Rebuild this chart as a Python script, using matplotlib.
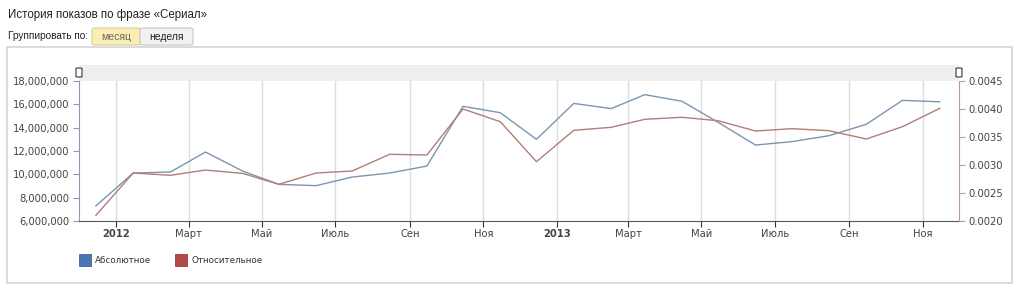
import datetime as dt
import matplotlib.pyplot as plt
from matplotlib.patches import Rectangle, FancyBboxPatch

# monthly data, Dec 2011 .. Nov 2013
months = [dt.date(2011, 12, 15)] + [dt.date(2012 + (m // 12), m % 12 + 1, 15) for m in range(23)]
absolute = [7.29e6, 10.11e6, 10.2e6, 11.91e6, 10.28e6, 9.14e6, 9.03e6, 9.77e6,
            10.11e6, 10.71e6, 15.83e6, 15.28e6, 13.0e6, 16.08e6, 15.63e6, 16.83e6,
            16.26e6, 14.45e6, 12.51e6, 12.8e6, 13.31e6, 14.29e6, 16.34e6, 16.22e6]
relative = [0.00210, 0.002857, 0.002816, 0.00291, 0.00285, 0.002655, 0.002857, 0.002893,
            0.003191, 0.003179, 0.00400, 0.003773, 0.003059, 0.003619, 0.003673, 0.003816,
            0.003852, 0.00379, 0.003607, 0.003649, 0.003613, 0.003464, 0.003684, 0.004012]

tick_dates = [dt.date(2012 + (m // 12), m % 12 + 1, 1) for m in range(0, 24, 2)]
tick_labels = ["2012", "Март", "Май", "Июль", "Сен", "Ноя",
               "2013", "Март", "Май", "Июль", "Сен", "Ноя"]
left_ticks = [6e6, 8e6, 10e6, 12e6, 14e6, 16e6, 18e6]
right_ticks = [0.0020, 0.0025, 0.0030, 0.0035, 0.0040, 0.0045]

W, H = 1024, 293
fig = plt.figure(figsize=(W / 100, H / 100), dpi=100)
fig.patch.set_facecolor("white")


def px(x, y):
    return x / W, 1 - y / H


# header
fig.text(*px(8, 15), "История показов по фразе «Сериал»", fontsize=8.3,
         family="Liberation Sans", color="#222222", va="center")
fig.text(*px(8, 36), "Группировать по:", fontsize=7.2, family="Liberation Sans",
         color="#222222", va="center")
fig.patches.append(FancyBboxPatch(px(92, 45), 48 / W, 17 / H, boxstyle="round,pad=0,rounding_size=0.004",
                                  transform=fig.transFigure, fc="#fbeeb4", ec="#d8cfa0", lw=0.8))
fig.patches.append(FancyBboxPatch(px(140, 45), 53 / W, 17 / H, boxstyle="round,pad=0,rounding_size=0.004",
                                  transform=fig.transFigure, fc="#f2f2f2", ec="#c8c8c8", lw=0.8))
fig.text(*px(116, 36.5), "месяц", fontsize=7.5, family="Liberation Sans", color="#666666",
         ha="center", va="center")
fig.text(*px(166, 36.5), "неделя", fontsize=7.5, family="Liberation Sans", color="#222222",
         ha="center", va="center")

# panel frame
fig.patches.append(Rectangle(px(7, 283), 1005 / W, 236 / H, transform=fig.transFigure,
                             fc="none", ec="#d4d4d4", lw=1.2))

# scroller band above the plot
fig.patches.append(Rectangle(px(79, 81), 880 / W, 16 / H, transform=fig.transFigure,
                             fc="#eeeeee", ec="none"))
for hx in (79, 959):
    fig.patches.append(FancyBboxPatch(px(hx - 3, 77), 6 / W, 9 / H, boxstyle="round,pad=0,rounding_size=0.002",
                                      transform=fig.transFigure, fc="white", ec="#333333", lw=0.8))

ax = fig.add_axes([79 / W, 1 - 221 / H, 880 / W, 140 / H])
ax2 = ax.twinx()
ax.set_zorder(5)
ax2.set_zorder(6)

blue_line = "#7d95b0"
red_line = "#b27d7b"
ax.plot(months, absolute, color=blue_line, lw=1.0, zorder=3)
ax2.plot(months, relative, color=red_line, lw=1.0, zorder=3)

ax.set_xlim(dt.date(2011, 12, 1), dt.date(2013, 12, 1))
ax.set_ylim(6e6, 18e6)
ax2.set_ylim(0.0020, 0.0045)

ax.set_xticks(tick_dates)
ax.set_xticklabels(tick_labels)
for lbl, t in zip(ax.get_xticklabels(), tick_labels):
    if t in ("2012", "2013"):
        lbl.set_fontweight("bold")
        lbl.set_color("#222222")
ax.grid(axis="x", color="#dddddd", lw=1.0)

ax.set_yticks(left_ticks)
ax.set_yticklabels([f"{int(v):,}" for v in left_ticks])
ax2.set_yticks(right_ticks)
ax2.set_yticklabels([f"{v:.4f}" for v in right_ticks])

for a in (ax, ax2):
    a.tick_params(labelsize=7.2, colors="#555555", length=4, width=0.8, pad=3)
    a.set_facecolor("none")
    a.spines["top"].set_visible(False)
ax.tick_params(axis="x", colors="#333333", labelcolor="#444444", pad=2)
ax.tick_params(axis="y", colors="#8a9bb0", labelcolor="#444444")
ax2.tick_params(axis="y", colors="#b89a98", labelcolor="#444444")
ax.spines["left"].set_color("#8a9bb0")
ax.spines["right"].set_visible(False)
ax2.spines["left"].set_visible(False)
ax2.spines["bottom"].set_visible(False)
ax2.spines["right"].set_color("#b89a98")
ax.spines["bottom"].set_color("#555555")

# legend
fig.patches.append(Rectangle(px(79, 266), 12 / W, 12 / H, transform=fig.transFigure,
                             fc="#4a77b4", ec="#3f669b", lw=0.6))
fig.text(*px(95, 260.5), "Абсолютное", fontsize=6.3, color="#333333", va="center")
fig.patches.append(Rectangle(px(175, 266), 12 / W, 12 / H, transform=fig.transFigure,
                             fc="#b24a46", ec="#983d3a", lw=0.6))
fig.text(*px(191, 260.5), "Относительное", fontsize=6.3, color="#333333", va="center")

fig.savefig("out.png", dpi=100)
